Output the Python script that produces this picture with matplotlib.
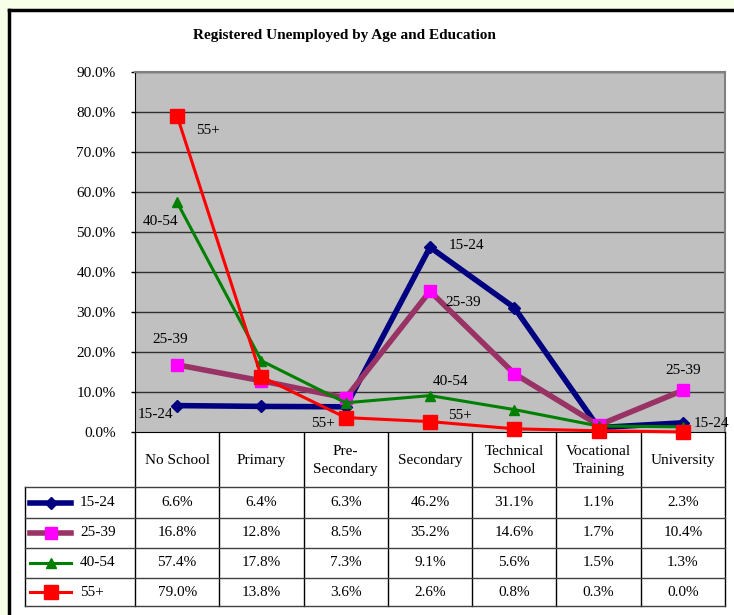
import matplotlib.pyplot as plt
from matplotlib.lines import Line2D
from matplotlib.patches import Rectangle
import numpy as np

plt.rcParams['font.family'] = ['Liberation Serif', 'DejaVu Serif']

categories = ['No School', 'Primary', 'Pre-\nSecondary', 'Secondary',
              'Technical\nSchool', 'Vocational\nTraining', 'University']
groups = ['15-24', '25-39', '40-54', '55+']
v_15_24 = [6.6, 6.4, 6.3, 46.2, 31.1, 1.1, 2.3]
v_25_39 = [16.8, 12.8, 8.5, 35.2, 14.6, 1.7, 10.4]
v_40_54 = [57.4, 17.8, 7.3, 9.1, 5.6, 1.5, 1.3]
v_55 = [79.0, 13.8, 3.6, 2.6, 0.8, 0.3, 0.0]
values = [v_15_24, v_25_39, v_40_54, v_55]

# styles per series: line colour, width, marker, marker colour, marker size
styles = [
    dict(color='#000080', lw=4, marker='D', mfc='#000080', ms=6),
    dict(color='#993366', lw=4, marker='s', mfc='#FF00FF', ms=8),
    dict(color='#008000', lw=2.2, marker='^', mfc='#008000', ms=7),
    dict(color='#FF0000', lw=2.2, marker='s', mfc='#FF0000', ms=10),
]

# (series index, category index, offset px x, offset px y)
point_labels = [
    (3, 0, 31, -14), (2, 0, -17, -19), (1, 0, -7, 25), (0, 0, -22, -9),
    (3, 2, -23, -6), (0, 3, 36, 2), (1, 3, 33, -11), (2, 3, 21, 14),
    (3, 3, 30, 6), (1, 6, 0, 20), (0, 6, 29, -1),
]

FS = 11
W, H = 734, 615
fig = plt.figure(figsize=(W / 100, H / 100), dpi=100)
fig.patch.set_facecolor('#F8FFE8')

# overlay in pixel coordinates for frame and table
bg = fig.add_axes([0, 0, 1, 1], zorder=0)
bg.set_xlim(0, W)
bg.set_ylim(H, 0)
bg.axis('off')
bg.add_patch(Rectangle((9, 10), W, H, facecolor='white', edgecolor='none'))
bg.plot([9, 9], [10, H + 5], color='black', lw=2.5)
bg.plot([9, W + 5], [10, 10], color='black', lw=2.5)

left, right, top, bottom = 135, 725, 72, 432
ax = fig.add_axes([left / W, (H - bottom) / H, (right - left) / W, (bottom - top) / H], zorder=2)
ax.set_facecolor('#C0C0C0')
n = len(categories)
ax.set_xlim(0, n)
ax.set_ylim(0, 90)
x = np.arange(n) + 0.5
for vals, st in zip(values, styles):
    ax.plot(x, vals, color=st['color'], lw=st['lw'], marker=st['marker'],
            markerfacecolor=st['mfc'], markeredgecolor=st['mfc'],
            markersize=st['ms'], clip_on=False, zorder=3)
for si, ci, dx, dy in point_labels:
    ax.annotate(groups[si], (x[ci], values[si][ci]), xytext=(dx, dy),
                textcoords='offset pixels', ha='center', va='center',
                fontsize=FS, annotation_clip=False, zorder=4)

yt = np.arange(0, 91, 10)
ax.set_yticks(yt)
ax.set_yticklabels([f'{v:.1f}%' for v in yt], fontsize=FS)
ax.tick_params(axis='y', length=3, width=1, pad=11, direction='out')
ax.set_xticks([])
for v in yt[1:]:
    ax.axhline(v, color='#303030', lw=1, zorder=1)
ax.spines['left'].set_color('black')
ax.spines['bottom'].set_color('black')
ax.spines['top'].set_color('#808080')
ax.spines['right'].set_color('#808080')
ax.spines['top'].set_linewidth(1.5)
ax.spines['right'].set_linewidth(1.5)

fig.text(344 / W, 1 - 35 / H, 'Registered Unemployed by Age and Education',
         ha='center', va='center', fontsize=FS, fontweight='bold')

# data table below the plot
colw = (right - left) / n
col_x = [left + k * colw for k in range(n + 1)]
row_y = [487, 518, 548, 578, 606]
leg_left = 25
for k, cx in enumerate(col_x):
    bg.plot([cx, cx], [bottom, row_y[-1]], color='black', lw=1)
bg.plot([leg_left, leg_left], [row_y[0], row_y[-1]], color='black', lw=1)
for ry in row_y:
    bg.plot([leg_left, right], [ry, ry], color='#404040', lw=1)

for k, cat in enumerate(categories):
    bg.text(col_x[k] + colw / 2, (bottom + row_y[0]) / 2 + 1, cat, ha='center',
            va='center', fontsize=FS, linespacing=1.5)

for r, (g, vals, st) in enumerate(zip(groups, values, styles)):
    cy = (row_y[r] + row_y[r + 1]) / 2
    bg.add_line(Line2D([30, 71], [cy, cy], color=st['color'], lw=st['lw']))
    bg.add_line(Line2D([50.5], [cy], marker=st['marker'], markerfacecolor=st['mfc'],
                       markeredgecolor=st['mfc'], markersize=st['ms']))
    bg.text(80, cy, g, ha='left', va='center', fontsize=FS)
    for k, v in enumerate(vals):
        bg.text(col_x[k] + colw / 2, cy, f'{v:.1f}%', ha='center', va='center',
                fontsize=FS)

fig.savefig('out.png', dpi=100, facecolor=fig.get_facecolor())
